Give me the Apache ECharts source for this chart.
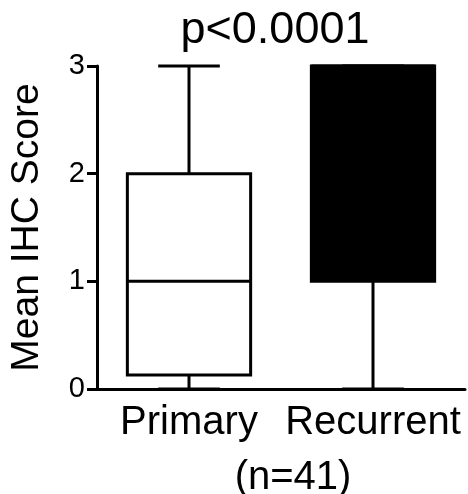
<!DOCTYPE html>
<html>
<head>
<meta charset="utf-8">
<script src="https://cdn.jsdelivr.net/npm/echarts@6/dist/echarts.min.js"></script>
<style>
html,body{margin:0;padding:0;background:#fff;}
#chart{width:468px;height:494px;}
</style>
</head>
<body>
<div id="chart"></div>
<script>
// ---- data ----
const categories = ['Primary', 'Recurrent'];
const minVals = [0, 0];
const q1Vals = [0.13, 1];
const medianVals = [1, 3];
const q3Vals = [2, 3];
const maxVals = [3, 3];
const yTicks = [0, 1, 2, 3];
const titleText = 'p<0.0001';
const yName = 'Mean IHC Score';
const subLabel = '(n=41)';

// ---- style ----
const FONT = '"Liberation Sans", Arial, sans-serif';
const INK = '#000';
const boxFills = ['#ffffff', '#000000'];

const seriesData = categories.map((c, i) => [i, minVals[i], q1Vals[i], medianVals[i], q3Vals[i], maxVals[i]]);

function renderItem(params, api) {
  const i = api.value(0);
  const band = api.size([1, 0])[0];
  const bw = band * 0.67;
  const cx = api.coord([i, 0])[0];
  const yMin = api.coord([i, api.value(1)])[1];
  const yQ1 = api.coord([i, api.value(2)])[1];
  const yMed = api.coord([i, api.value(3)])[1];
  const yQ3 = api.coord([i, api.value(4)])[1];
  const yMax = api.coord([i, api.value(5)])[1];
  const ls = { stroke: INK, lineWidth: 3, fill: null };
  const fill = boxFills[params.dataIndex];
  return {
    type: 'group',
    children: [
      { type: 'line', shape: { x1: cx, y1: yQ3, x2: cx, y2: yMax }, style: ls },
      { type: 'line', shape: { x1: cx, y1: yQ1, x2: cx, y2: yMin }, style: ls },
      { type: 'line', shape: { x1: cx - bw / 4, y1: yMax, x2: cx + bw / 4, y2: yMax }, style: ls },
      { type: 'line', shape: { x1: cx - bw / 4, y1: yMin, x2: cx + bw / 4, y2: yMin }, style: ls },
      { type: 'rect', shape: { x: cx - bw / 2, y: yQ3, width: bw, height: yQ1 - yQ3 }, style: { fill: fill, stroke: INK, lineWidth: 3 } },
      { type: 'line', shape: { x1: cx - bw / 2, y1: yMed, x2: cx + bw / 2, y2: yMed }, style: ls }
    ]
  };
}

const chart = echarts.init(document.getElementById('chart'), null, { renderer: 'canvas' });
chart.setOption({
  animation: false,
  backgroundColor: '#fff',
  title: {
    text: titleText,
    left: 270,
    top: 3,
    textAlign: 'center',
    textStyle: { fontFamily: FONT, fontSize: 45, fontWeight: 'normal', color: INK }
  },
  grid: { left: 93, right: 3, top: 66, bottom: 105, containLabel: false },
  xAxis: {
    type: 'category',
    data: categories,
    boundaryGap: true,
    axisLine: { lineStyle: { color: INK, width: 3 } },
    axisTick: { alignWithLabel: true, length: 12, lineStyle: { color: INK, width: 3 } },
    axisLabel: { fontFamily: FONT, fontSize: 40, color: INK, margin: 14, interval: 0 },
    splitLine: { show: false }
  },
  yAxis: {
    type: 'value',
    min: yTicks[0],
    max: yTicks[yTicks.length - 1],
    interval: 1,
    name: yName,
    nameLocation: 'middle',
    nameGap: 50,
    nameTextStyle: { fontFamily: FONT, fontSize: 39, color: INK },
    axisLine: { show: true, lineStyle: { color: INK, width: 3 } },
    axisTick: { show: true, length: 10, lineStyle: { color: INK, width: 3 } },
    axisLabel: { fontFamily: FONT, fontSize: 29, color: INK, margin: 12 },
    splitLine: { show: false }
  },
  graphic: [{
    type: 'text',
    x: 293,
    y: 478,
    style: { text: subLabel, font: '40px ' + FONT, fill: INK, textAlign: 'center', textVerticalAlign: 'middle' }
  }],
  series: [{
    type: 'custom',
    renderItem: renderItem,
    data: seriesData,
    encode: { x: 0, y: [1, 2, 3, 4, 5] },
    clip: false,
    z: 1
  }]
});
</script>
</body>
</html>
